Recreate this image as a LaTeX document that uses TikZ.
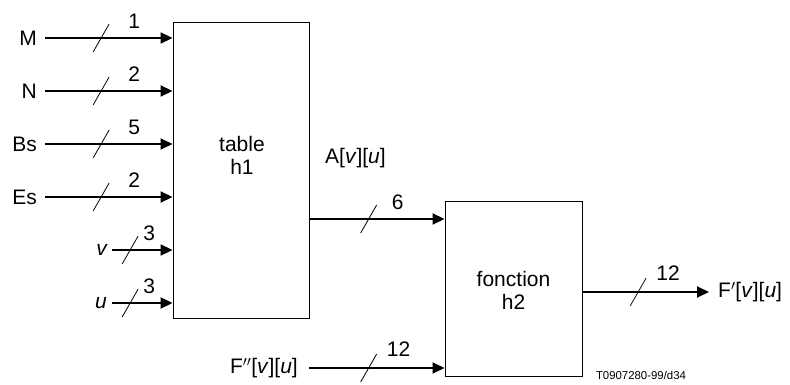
\documentclass[tikz,border=0pt]{standalone}
\usepackage{fontspec}
\setmainfont{Liberation Sans}
\usetikzlibrary{arrows.meta,calc}
\begin{document}
\begin{tikzpicture}[x=1pt,y=-1pt,
  txt/.style={inner sep=0pt,font=\fontsize{21}{23}\selectfont},
  small/.style={inner sep=0pt,font=\fontsize{11.4}{14}\selectfont},
  block/.style={draw=black,line width=0.9pt,inner sep=0pt},
  blocktxt/.style={inner sep=0pt,align=center,font=\fontsize{21}{23}\selectfont},
  sig/.style={line width=1.8pt,-{Triangle[length=12pt,width=11pt]}},
  busmark/.style={line width=0.8pt}]
\useasboundingbox (0,0) rectangle (790,385);
% blocks
\node[block,minimum width=136pt,minimum height=296pt] (h1) at (241,170) {};
\node[blocktxt] (h1t) at (242,155) {table\\h1};
\node[block,minimum width=137pt,minimum height=175pt] (h2) at (513.5,288.5) {};
\node[blocktxt] (h2t) at (513.5,290) {fonction\\h2};
% input labels
\node[txt,anchor=east] (M) at (37,38) {M};
\node[txt,anchor=east] (N) at (37,91) {N};
\node[txt,anchor=east] (Bs) at (37,144) {Bs};
\node[txt,anchor=east] (Es) at (37,197) {Es};
\node[txt,anchor=east] (v) at (107,250) {\itshape v};
\node[txt,anchor=east] (u) at (107,303) {\itshape u};
% input arrows
\draw[sig] ([xshift=8pt]M.east) -- coordinate[pos=0.44] (sM) (M.east -| h1.west);
\draw[sig] ([xshift=8pt]N.east) -- coordinate[pos=0.44] (sN) (N.east -| h1.west);
\draw[sig] ([xshift=8pt]Bs.east) -- coordinate[pos=0.44] (sBs) (Bs.east -| h1.west);
\draw[sig] ([xshift=8pt]Es.east) -- coordinate[pos=0.44] (sEs) (Es.east -| h1.west);
\draw[sig] ([xshift=5pt]v.east) -- coordinate[pos=0.3] (sv) (v.east -| h1.west);
\draw[sig] ([xshift=5pt]u.east) -- coordinate[pos=0.3] (su) (u.east -| h1.west);
\foreach \s in {sM,sN,sBs,sEs,sv,su}
  \draw[busmark] ([shift={(-8,14)}]\s) -- ([shift={(8,-14)}]\s);
\node[txt] (nM) at ([shift={(33,-17)}]sM) {1};
\node[txt] (nN) at ([shift={(33,-17)}]sN) {2};
\node[txt] (nBs) at ([shift={(33,-17)}]sBs) {5};
\node[txt] (nEs) at ([shift={(33,-17)}]sEs) {2};
\node[txt] (nv) at ([shift={(19,-17)}]sv) {3};
\node[txt] (nu) at ([shift={(19,-17)}]su) {3};
% h1 -> h2
\coordinate (a) at (309,219);
\draw[sig] (a) -- coordinate[pos=0.44] (sA) (a -| h2.west);
\draw[busmark] ([shift={(-8,14)}]sA) -- ([shift={(8,-14)}]sA);
\node[txt] (nA) at ([shift={(29,-17)}]sA) {6};
\node[txt,anchor=west] (A) at (325,158) {A[\textit{v}][\textit{u}]};
% F'' input
\node[txt,anchor=east] (F2) at (298,368) {F$''$[\textit{v}][\textit{u}]};
\draw[sig] ([xshift=11pt]F2.east) -- coordinate[pos=0.44] (sF2) (F2.east -| h2.west);
\draw[busmark] ([shift={(-8,14)}]sF2) -- ([shift={(8,-14)}]sF2);
\node[txt] (nF2) at ([shift={(30,-19)}]sF2) {12};
% output
\node[txt,anchor=west] (F1) at (718,292) {F$'$[\textit{v}][\textit{u}]};
\draw[sig] (h2.east |- F1.west) -- coordinate[pos=0.44] (sF1) ([xshift=-9pt]F1.west);
\draw[busmark] ([shift={(-8,14)}]sF1) -- ([shift={(8,-14)}]sF1);
\node[txt] (nF1) at ([shift={(30,-19)}]sF1) {12};
% reference
\node[small] (ref) at (641,375) {T0907280-99/d34};
\end{tikzpicture}
\end{document}
